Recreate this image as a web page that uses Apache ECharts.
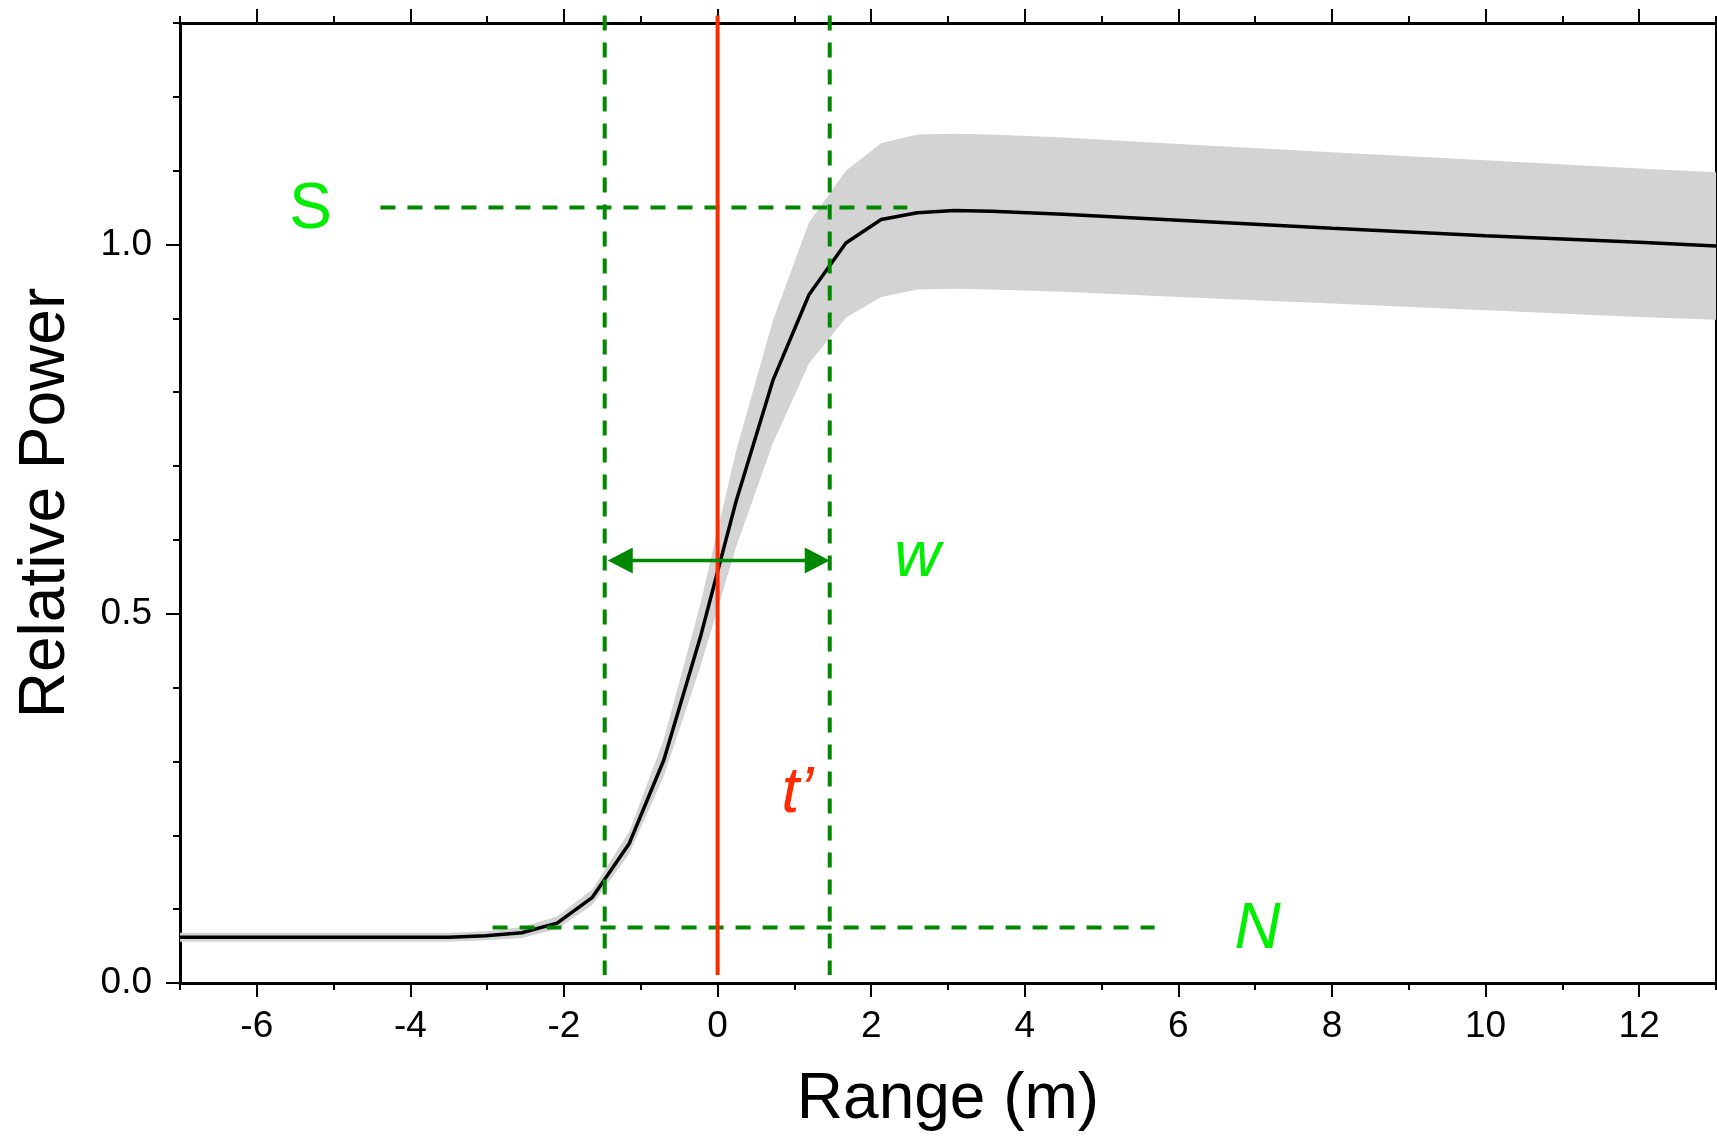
<!DOCTYPE html>
<html><head><meta charset="utf-8">
<script src="https://cdn.jsdelivr.net/npm/echarts@6/dist/echarts.min.js"></script>
<style>html,body{margin:0;padding:0;background:#fff}#c{width:1717px;height:1137px}</style>
</head><body><div id="c"></div>
<script>
// ---- data ----
const rangeX = [-7, -3.5, -3.02, -2.55, -2.09, -1.63, -1.15, -0.70, -0.22, 0.24, 0.72, 1.19, 1.67, 2.13, 2.60, 3.08, 3.57, 4.5, 6, 8, 10, 12, 13];
const power  = [0.062, 0.062, 0.064, 0.068, 0.081, 0.116, 0.189, 0.302, 0.47, 0.652, 0.816, 0.932, 1.002, 1.034, 1.043, 1.046, 1.045, 1.041, 1.033, 1.022, 1.012, 1.003, 0.998];
const upper  = [0.068, 0.068, 0.070, 0.076, 0.090, 0.127, 0.205, 0.330, 0.515, 0.720, 0.897, 1.030, 1.100, 1.137, 1.149, 1.150, 1.149, 1.145, 1.136, 1.125, 1.114, 1.103, 1.098];
const lower  = [0.056, 0.056, 0.058, 0.061, 0.073, 0.106, 0.175, 0.280, 0.430, 0.590, 0.731, 0.839, 0.901, 0.929, 0.939, 0.940, 0.939, 0.936, 0.929, 0.920, 0.911, 0.902, 0.898];

const xMajorTicks = [-6, -4, -2, 0, 2, 4, 6, 8, 10, 12];
const xMinorTicks = [-7, -5, -3, -1, 1, 3, 5, 7, 9, 11, 13];
const yMajorTicks = [0, 0.5, 1.0];
const yMinorTicks = [0.1, 0.2, 0.3, 0.4, 0.6, 0.7, 0.8, 0.9, 1.1, 1.2, 1.3];

// annotation values (data units)
const sLevel = 1.05, sSpan = [-4.39, 2.47];
const nLevel = 0.075, nSpan = [-2.93, 5.69];
const wBounds = [-1.47, 1.46];
const tPrime = 0;
const vSpan = [1.31, 0.011];
const arrowY = 0.572, arrowSpan = [-1.43, 1.46];
const labelText = ['S', 'w', 't\u2019', 'N'];
const labelX = [-5.30, 2.60, 1.04, 7.03];
const labelY = [1.046, 0.575, 0.256, 0.072];

// ---- styles ----
const FONT = 'Liberation Sans, Arial, Helvetica, sans-serif';
const DKGREEN = '#008800', LTGREEN = '#00ee00', RED = '#ff2a00';
const labelColor = [LTGREEN, LTGREEN, RED, LTGREEN];
const labelItalic = [false, true, true, true];

const chart = echarts.init(document.getElementById('c'), null, {renderer: 'canvas'});

function xAx(pos, ticks, len, showLine, extra) {
  return Object.assign({
    type: 'value', min: -7, max: 13, position: pos,
    axisLine: {show: showLine, onZero: false, lineStyle: {color: '#000', width: 3}},
    axisTick: {show: true, customValues: ticks, length: len, inside: false, lineStyle: {color: '#000', width: 2}},
    axisLabel: {show: false},
    splitLine: {show: false}
  }, extra || {});
}
function yAx(pos, ticks, len, showLine, extra) {
  return Object.assign({
    type: 'value', min: 0, max: 1.3, position: pos,
    axisLine: {show: showLine, onZero: false, lineStyle: {color: '#000', width: 3}},
    axisTick: {show: ticks.length > 0, customValues: ticks, length: len, inside: false, lineStyle: {color: '#000', width: 2}},
    axisLabel: {show: false},
    splitLine: {show: false}
  }, extra || {});
}

const dash = (pts, color) => ({
  type: 'line', xAxisIndex: 0, yAxisIndex: 0, data: pts, symbol: 'none', clip: false,
  lineStyle: {color: color, width: 4, type: [15, 12]}, z: 5, silent: true
});

const option = {
  animation: false,
  backgroundColor: '#fff',
  grid: {left: 180, top: 23, width: 1536, height: 960, containLabel: false, outerBoundsMode: 'none'},
  xAxis: [
    xAx('bottom', xMajorTicks, 14, true, {
      axisLabel: {show: true, customValues: xMajorTicks, fontSize: 37, fontFamily: FONT, color: '#000', margin: 25},
      name: 'Range (m)', nameLocation: 'middle', nameGap: 85,
      nameTextStyle: {fontSize: 64, fontFamily: FONT, color: '#000'}
    }),
    xAx('bottom', xMinorTicks, 7, false),
    xAx('top', xMajorTicks, 14, true),
    xAx('top', xMinorTicks, 7, false)
  ],
  yAxis: [
    yAx('left', yMajorTicks, 14, true, {
      axisLabel: {show: true, customValues: yMajorTicks, fontSize: 37, fontFamily: FONT, color: '#000', margin: 28,
        formatter: v => Number(v).toFixed(1)},
      name: 'Relative Power', nameLocation: 'middle', nameGap: 102, nameRotate: 90,
      nameTextStyle: {fontSize: 64, fontFamily: FONT, color: '#000'}
    }),
    yAx('left', yMinorTicks, 7, false),
    yAx('right', [], 0, true)
  ],
  series: [
    {
      type: 'custom', xAxisIndex: 0, yAxisIndex: 0, data: [[0, 0]], z: 1, silent: true,
      renderItem: (params, api) => {
        const pts = [];
        for (let i = 0; i < rangeX.length; i++) pts.push(api.coord([rangeX[i], upper[i]]));
        for (let i = rangeX.length - 1; i >= 0; i--) pts.push(api.coord([rangeX[i], lower[i]]));
        return {type: 'polygon', shape: {points: pts}, style: {fill: '#d3d3d3', stroke: null}};
      }
    },
    {
      type: 'line', xAxisIndex: 0, yAxisIndex: 0, symbol: 'none', z: 3, silent: true,
      data: rangeX.map((x, i) => [x, power[i]]),
      lineStyle: {color: '#000', width: 3.5}
    },
    dash([[sSpan[0], sLevel], [sSpan[1], sLevel]], DKGREEN),
    dash([[nSpan[0], nLevel], [nSpan[1], nLevel]], DKGREEN),
    dash([[wBounds[0], vSpan[0]], [wBounds[0], vSpan[1]]], DKGREEN),
    dash([[wBounds[1], vSpan[0]], [wBounds[1], vSpan[1]]], DKGREEN),
    {
      type: 'line', xAxisIndex: 0, yAxisIndex: 0, symbol: 'none', clip: false, z: 6, silent: true,
      data: [[tPrime, vSpan[0]], [tPrime, vSpan[1]]],
      lineStyle: {color: RED, width: 4}
    },
    {
      type: 'custom', xAxisIndex: 0, yAxisIndex: 0, data: [[0, 0]], z: 7, silent: true,
      renderItem: (params, api) => {
        const a = api.coord([arrowSpan[0], arrowY]), b = api.coord([arrowSpan[1], arrowY]);
        const L = 25, H = 13;
        return {type: 'group', children: [
          {type: 'line', shape: {x1: a[0] + L - 2, y1: a[1], x2: b[0] - L + 2, y2: b[1]}, style: {stroke: DKGREEN, lineWidth: 3.5}},
          {type: 'polygon', shape: {points: [[a[0], a[1]], [a[0] + L, a[1] - H], [a[0] + L, a[1] + H]]}, style: {fill: DKGREEN}},
          {type: 'polygon', shape: {points: [[b[0], b[1]], [b[0] - L, b[1] - H], [b[0] - L, b[1] + H]]}, style: {fill: DKGREEN}}
        ]};
      }
    },
    {
      type: 'custom', xAxisIndex: 0, yAxisIndex: 0, z: 8, silent: true,
      data: labelText.map((t, i) => [labelX[i], labelY[i], i]),
      renderItem: (params, api) => {
        const i = api.value(2);
        const p = api.coord([api.value(0), api.value(1)]);
        return {type: 'text', x: p[0], y: p[1], style: {
          text: labelText[i], fill: labelColor[i], fontSize: 64, fontFamily: FONT,
          fontStyle: labelItalic[i] ? 'italic' : 'normal', align: 'center', verticalAlign: 'middle'
        }};
      }
    }
  ]
};
chart.setOption(option);
</script></body></html>
